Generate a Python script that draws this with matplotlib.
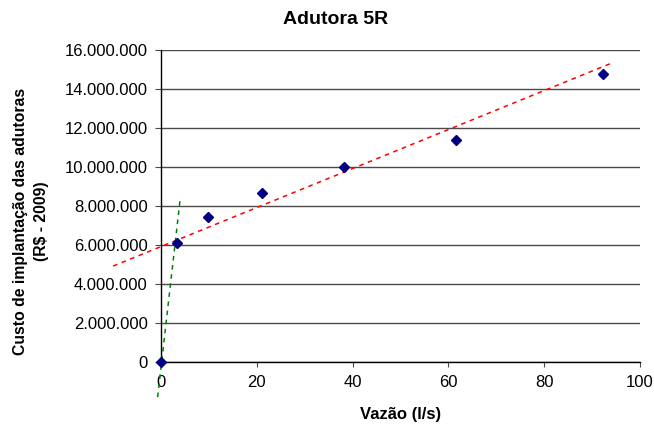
import matplotlib
matplotlib.use("Agg")
import matplotlib.pyplot as plt
from matplotlib.ticker import FuncFormatter, MultipleLocator

plt.rcParams['font.family'] = ['Liberation Sans', 'DejaVu Sans']

vazao = [0, 3.4, 9.8, 21.1, 38.3, 61.6, 92.3]
custo = [0, 6.1e6, 7.43e6, 8.67e6, 9.98e6, 11.37e6, 14.77e6]

trend_red_x = [-10.0, 94.6]
trend_red_y = [4.92e6, 15.38e6]
trend_green_x = [-0.7, 4.0]
trend_green_y = [-1.8e6, 8.35e6]

W, H = 654, 425
fig = plt.figure(figsize=(W / 100, H / 100), dpi=100)
ax = fig.add_axes([161 / W, 1 - 362 / H, (640 - 161) / W, (362 - 50) / H])

ax.set_xlim(0, 100)
ax.set_ylim(0, 16e6)
ax.yaxis.set_major_locator(MultipleLocator(2e6))
ax.xaxis.set_major_locator(MultipleLocator(20))
ax.yaxis.grid(True, color='#4a4a4a', linewidth=1.0)
ax.set_axisbelow(True)

def fmt(v, pos):
    return f"{int(round(v)):,}".replace(",", ".")
ax.yaxis.set_major_formatter(FuncFormatter(fmt))

ax.plot(trend_red_x, trend_red_y, color='#ff0000', linestyle=(0, (3, 3)), linewidth=1.1, clip_on=False, zorder=3)
ax.plot(trend_green_x, trend_green_y, color='#008000', linestyle=(0, (3, 3)), linewidth=1.1, clip_on=False, zorder=3)
ax.plot(vazao, custo, linestyle='none', marker='D', markersize=5.2, color='#000080', clip_on=False, zorder=4)

for s in ['top', 'right']:
    ax.spines[s].set_visible(False)
for s in ['left', 'bottom']:
    ax.spines[s].set_color('black')
    ax.spines[s].set_linewidth(1.0)

ax.tick_params(axis='y', labelsize=12, direction='out', length=4.5, color='#4a4a4a', pad=5)
ax.tick_params(axis='x', labelsize=12, direction='out', length=3.5, color='#4a4a4a', pad=6)

fig.text(336 / W, 1 - 20 / H, 'Adutora 5R', fontsize=14, fontweight='bold', ha='center', va='center')
fig.text(401 / W, 1 - 414 / H, 'Vazão (l/s)', fontsize=12, fontweight='bold', ha='center', va='center')
fig.text(31 / W, 1 - 221 / H, 'Custo de implantação das adutoras\n(R$ - 2009)', fontsize=11.3,
         fontweight='bold', ha='center', va='center', rotation=90, linespacing=1.45, multialignment='center')

fig.savefig('out.png', dpi=100)
